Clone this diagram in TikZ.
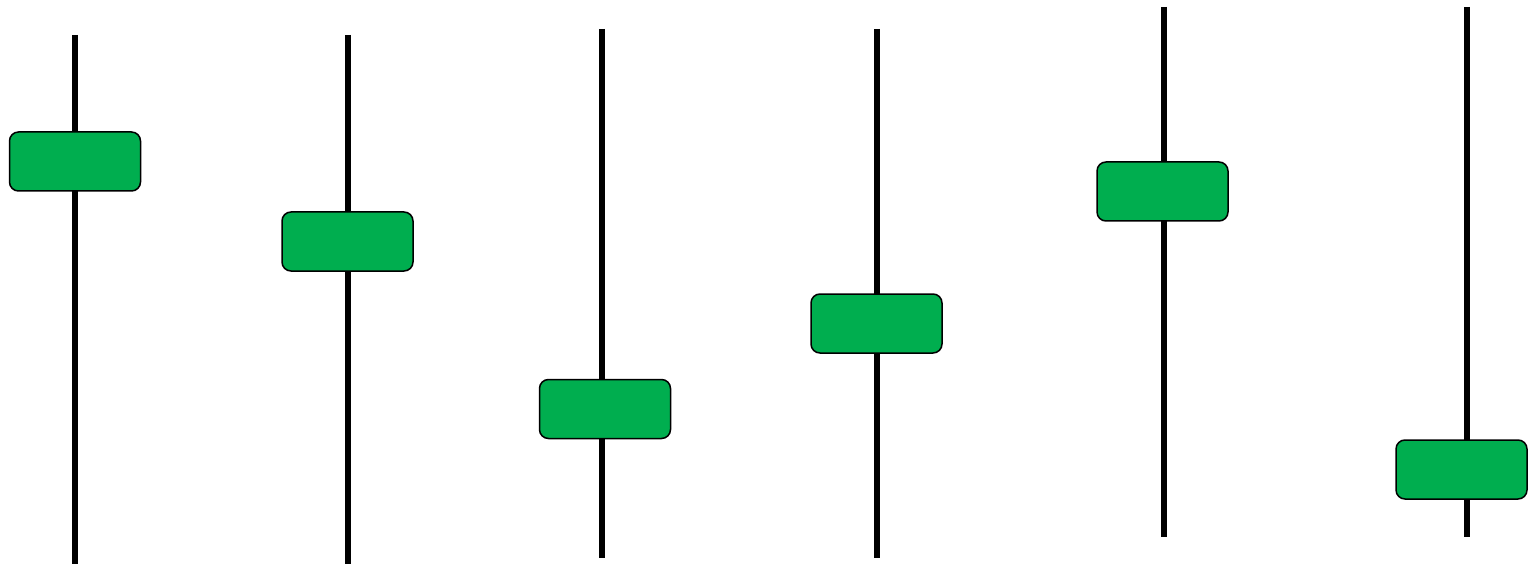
\documentclass[tikz,border=0pt]{standalone}
\begin{document}
\begin{tikzpicture}[x=1pt,y=-1pt,
  stem/.style={line width=5.5pt},
  bar/.style={draw=black,line width=1.5pt,fill=barfill,rounded corners=9pt,minimum width=131pt,minimum height=59pt,inner sep=0pt}]
\definecolor{barfill}{HTML}{00AE4F}
\useasboundingbox (0,0) rectangle (1534,564);
\coordinate (t1) at (75,35);   \coordinate (b1) at (75,564);
\coordinate (t2) at (348,35);  \coordinate (b2) at (348,564);
\coordinate (t3) at (602,29);  \coordinate (b3) at (602,558);
\coordinate (t4) at (877,29);  \coordinate (b4) at (877,558);
\coordinate (t5) at (1164,7);  \coordinate (b5) at (1164,537);
\coordinate (t6) at (1467,7);  \coordinate (b6) at (1467,537);
\foreach \i in {1,...,6} {\draw[stem] (t\i) -- (b\i);}
\node[bar] (k1) at (75,161.5) {};
\node[bar] (k2) at (347.5,241.5) {};
\node[bar] (k3) at (605,409) {};
\node[bar] (k4) at (876.5,323.5) {};
\node[bar] (k5) at (1162.5,191.5) {};
\node[bar] (k6) at (1461.5,469.5) {};
\end{tikzpicture}
\end{document}
